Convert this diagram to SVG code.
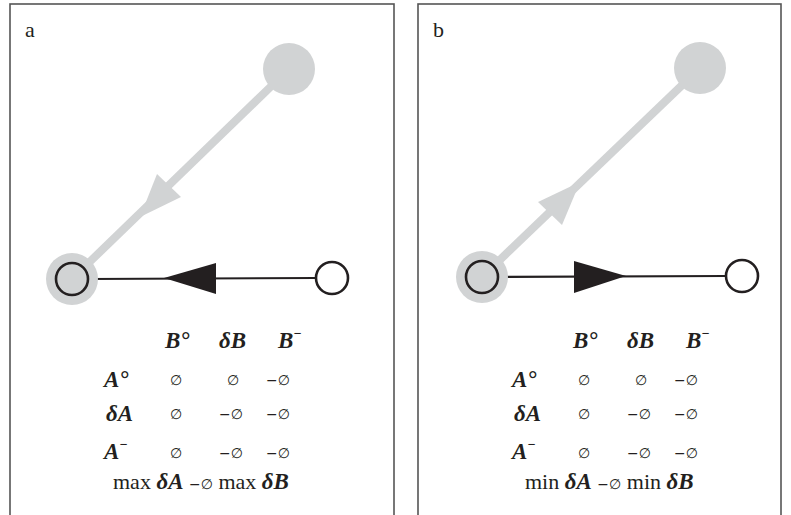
<svg xmlns="http://www.w3.org/2000/svg" width="791" height="515" viewBox="0 0 791 515">
<style>
.panel{fill:none;stroke:#555;stroke-width:1.6}
.lbl{font-family:"Liberation Serif",serif;font-size:22px;fill:#231f20}
.it{font-family:"Liberation Serif",serif;font-style:italic;font-weight:bold;font-size:23px;fill:#231f20}
.rm{font-family:"Liberation Serif",serif;font-size:22px;fill:#231f20}
.sym{font-family:"DejaVu Sans",sans-serif;font-size:14px;fill:#231f20;text-anchor:middle}
.gline{stroke:#d1d3d4;stroke-width:8;fill:none}
.bline{stroke:#231f20;stroke-width:2.2;fill:none}
.gfill{fill:#d1d3d4}
.bfill{fill:#231f20}
.node{stroke:#231f20;stroke-width:2.6}
</style>
<rect class="panel" x="10" y="4" width="384" height="530"/>
<rect class="panel" x="418" y="4" width="363" height="530"/>
<text class="lbl" x="25" y="37">a</text>
<text class="lbl" x="433" y="37">b</text>
<g id="connectors">
<line class="gline" x1="289" y1="69" x2="72" y2="279"/>
<polygon class="gfill" points="140,217 157,174 181,197"/>
<line class="bline" x1="88" y1="279" x2="316" y2="278"/>
<polygon class="bfill" points="164,278 216,263 216,294"/>
<line class="gline" x1="700" y1="68" x2="482" y2="277"/>
<polygon class="gfill" points="580,182 538,202 562,225"/>
<line class="bline" x1="498" y1="277" x2="726" y2="276"/>
<polygon class="bfill" points="626,276 574,261 574,293"/>
</g>
<g id="a-top"><circle class="gfill" cx="289" cy="69" r="26"/></g>
<g id="a-left"><circle class="gfill" cx="72" cy="279" r="26"/><circle class="node" fill="#d1d3d4" cx="72" cy="279" r="16"/></g>
<g id="a-right"><circle class="node" fill="#fff" cx="332" cy="278" r="16"/></g>
<g id="b-top"><circle class="gfill" cx="700" cy="68" r="26"/></g>
<g id="b-left"><circle class="gfill" cx="482" cy="277" r="26"/><circle class="node" fill="#d1d3d4" cx="482" cy="277" r="16"/></g>
<g id="b-right"><circle class="node" fill="#fff" cx="742" cy="276" r="16"/></g>
<g id="table-a">
<text class="it" x="165" y="348">B°</text>
<text class="it" x="219" y="348">δB</text>
<text class="it" x="278" y="348">B<tspan font-size="14" dy="-10">−</tspan></text>
<text class="it" x="104" y="387">A°</text>
<text class="it" x="106" y="421">δA</text>
<text class="it" x="104" y="459">A<tspan font-size="14" dy="-10">−</tspan></text>
<text class="sym" x="176" y="385">∅</text><text class="sym" x="233" y="385">∅</text><text class="sym" x="278" y="385">−∅</text>
<text class="sym" x="176" y="419">∅</text><text class="sym" x="231" y="419">−∅</text><text class="sym" x="278" y="419">−∅</text>
<text class="sym" x="176" y="458">∅</text><text class="sym" x="231" y="458">−∅</text><text class="sym" x="278" y="458">−∅</text>
<text class="rm" x="113" y="489">max <tspan class="it">δA</tspan> <tspan font-family="DejaVu Sans, sans-serif" font-size="14">−∅</tspan> max <tspan class="it">δB</tspan></text>
</g>
<g id="table-b">
<text class="it" x="573" y="348">B°</text>
<text class="it" x="627" y="348">δB</text>
<text class="it" x="686" y="348">B<tspan font-size="14" dy="-10">−</tspan></text>
<text class="it" x="512" y="387">A°</text>
<text class="it" x="514" y="421">δA</text>
<text class="it" x="512" y="459">A<tspan font-size="14" dy="-10">−</tspan></text>
<text class="sym" x="584" y="385">∅</text><text class="sym" x="641" y="385">∅</text><text class="sym" x="686" y="385">−∅</text>
<text class="sym" x="584" y="419">∅</text><text class="sym" x="639" y="419">−∅</text><text class="sym" x="686" y="419">−∅</text>
<text class="sym" x="584" y="458">∅</text><text class="sym" x="639" y="458">−∅</text><text class="sym" x="686" y="458">−∅</text>
<text class="rm" x="525" y="489">min <tspan class="it">δA</tspan> <tspan font-family="DejaVu Sans, sans-serif" font-size="14">−∅</tspan> min <tspan class="it">δB</tspan></text>
</g>
</svg>
